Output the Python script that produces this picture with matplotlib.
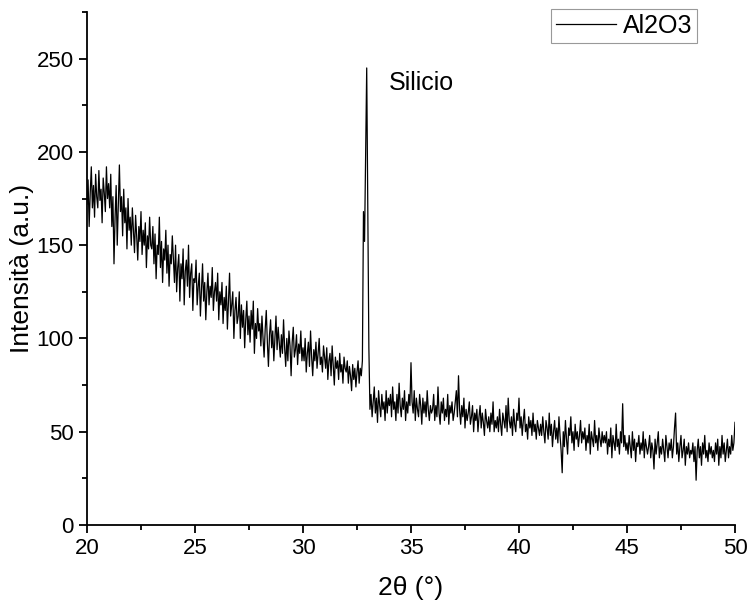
import numpy as np
import matplotlib
matplotlib.use("Agg")
import matplotlib.pyplot as plt
from matplotlib.ticker import MultipleLocator

plt.rcParams['font.family'] = ['Liberation Sans', 'DejaVu Sans']

# 2theta from 20 to 50 in 0.05 steps
x_start, x_step = 20.0, 0.05
intensity = [
    172,185,160,178,192,170,182,165,188,176,170,190,174,180,162,186,178,168,192,175,  # 20
    183,170,188,160,176,140,165,182,150,172,193,168,176,155,180,162,170,148,175,158,  # 21
    165,150,170,158,146,166,155,142,160,152,168,145,158,150,162,138,155,148,165,150,  # 22
    148,160,140,156,132,150,145,165,138,152,130,148,142,158,135,150,128,145,140,155,  # 23
    142,130,150,125,138,145,120,140,132,148,118,136,142,128,150,122,135,140,115,132,  # 24
    130,142,118,128,135,112,126,140,120,130,110,125,135,118,128,122,138,115,125,130,  # 25
    120,135,110,125,118,130,108,122,115,128,105,120,135,112,118,125,100,115,122,108,  # 26
    112,125,100,118,106,115,95,110,120,102,112,98,115,105,120,92,108,100,116,104,     # 27
    108,96,112,100,90,105,115,98,85,102,110,95,104,88,100,112,94,106,98,90,           # 28
    102,92,110,95,85,100,88,104,96,80,98,106,90,94,102,86,97,92,104,88,               # 29
    95,88,100,82,92,98,85,104,90,80,94,88,98,84,92,100,86,90,82,96,                   # 30
    90,84,95,78,88,92,80,96,86,75,90,84,88,78,92,82,86,76,90,84,                      # 31
    82,88,76,85,80,72,86,78,84,74,82,88,76,84,80,88,168,152,200,245,                  # 32
    170,95,62,70,58,66,74,60,68,55,72,64,58,70,62,66,56,72,60,68,                     # 33
    64,70,58,74,62,66,56,70,60,76,64,58,68,62,72,56,66,60,70,64,                      # 34
    87,66,60,72,56,68,62,58,70,64,54,68,60,66,58,72,62,56,64,60,                      # 35
    62,70,56,64,58,74,60,54,66,60,68,56,62,58,70,54,64,60,66,56,                      # 36
    60,66,72,58,80,62,54,64,58,68,52,62,56,60,66,54,58,64,50,60,                      # 37
    56,62,50,58,64,52,60,55,48,62,56,52,58,50,60,54,66,50,56,52,                      # 38
    58,50,62,54,48,60,56,52,64,50,68,56,52,58,48,62,54,50,60,56,                      # 39
    68,52,58,48,56,62,50,54,46,58,52,56,48,60,50,54,46,56,52,48,                      # 40
    54,48,58,50,44,56,52,46,60,48,54,42,50,56,46,52,44,58,48,40,                      # 41
    28,50,42,56,46,38,52,48,58,44,50,40,54,46,50,42,48,56,44,50,                      # 42
    46,52,40,48,44,54,38,50,46,42,56,44,48,40,52,46,42,50,44,48,                      # 43
    44,50,38,46,42,52,36,48,44,40,54,42,46,38,50,44,65,42,48,40,                      # 44
    44,38,48,42,36,50,40,46,34,44,42,48,38,44,40,50,36,46,42,38,                      # 45
    42,48,36,44,40,30,46,38,44,50,36,42,38,46,40,34,48,42,36,44,                      # 46
    40,46,36,42,52,60,38,44,34,42,48,36,40,46,32,42,38,44,36,40,                      # 47
    38,44,34,42,24,40,46,36,42,32,44,38,48,36,40,34,44,38,42,36,                      # 48
    40,34,44,38,46,32,42,36,48,38,44,34,40,46,36,42,38,48,40,44,                      # 49
    55,
]
two_theta = x_start + x_step * np.arange(len(intensity))

series_label = "Al2O3"
peak_label = "Silicio"

fig = plt.figure(figsize=(7.48, 6.06), dpi=100)
ax = fig.add_axes([0.1163, 0.1337, 0.8663, 0.8465])
ax.plot(two_theta, intensity, color='black', lw=0.9, label=series_label)

ax.set_xlim(20, 50)
ax.set_ylim(0, 275)
ax.xaxis.set_major_locator(MultipleLocator(5))
ax.xaxis.set_minor_locator(MultipleLocator(2.5))
ax.yaxis.set_major_locator(MultipleLocator(50))
ax.yaxis.set_minor_locator(MultipleLocator(25))
for s in ['top', 'right']:
    ax.spines[s].set_visible(False)
for s in ['left', 'bottom']:
    ax.spines[s].set_linewidth(1.3)
ax.tick_params(which='major', direction='out', length=6, width=1.3, labelsize=16)
ax.tick_params(which='minor', direction='out', length=3.5, width=1.3)

ax.set_xlabel("2θ (°)", fontsize=19, labelpad=12)
ax.set_ylabel("Intensità (a.u.)", fontsize=19, labelpad=2)

ax.text(33.98, 237, peak_label, fontsize=18, va='center', ha='left')

leg = ax.legend(loc='upper right', bbox_to_anchor=(0.9414, 1.0058), fontsize=18,
                frameon=True, fancybox=False, edgecolor='#808080',
                handlelength=2.4, handletextpad=0.25, borderpad=0.2,
                borderaxespad=0.0)
leg.get_frame().set_linewidth(0.8)

fig.savefig("out.png", dpi=100)
